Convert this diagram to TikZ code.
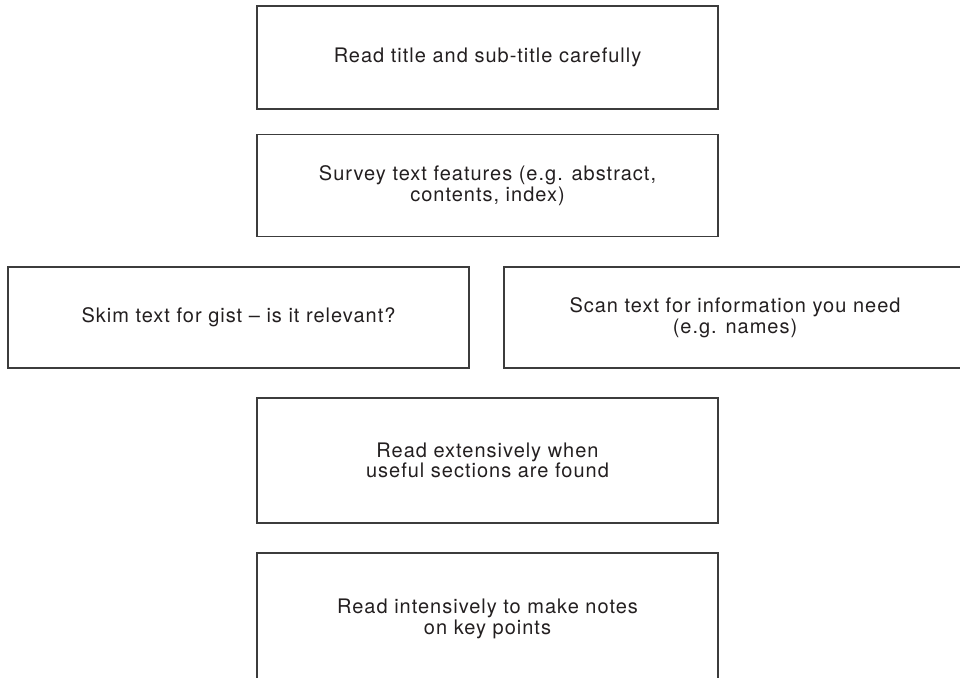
\documentclass[tikz,border=0pt]{standalone}
\usepackage{fontspec}
\setmainfont[LetterSpace=5]{TeX Gyre Heros}
\definecolor{boxline}{HTML}{3C3C3C}
\definecolor{textcol}{HTML}{231F20}
\begin{document}
\begin{tikzpicture}[x=1pt,y=-1pt,
  box/.style={draw=boxline, line width=1.4pt, align=center, inner sep=0pt,
    text=textcol, font=\fontsize{20}{20.5}\selectfont}]
\useasboundingbox (0,0) rectangle (960,677);
\clip (0,0) rectangle (960,677);
\node[box, minimum width=461pt, minimum height=103pt] (b1) at (487.5,57.5)
  {Read title and sub-title carefully};
\node[box, minimum width=461pt, minimum height=102pt] (b2) at (487.5,185.5)
  {Survey text features (e.g. abstract,\\contents, index)};
\node[box, minimum width=461pt, minimum height=101pt] (b3) at (238.5,317.5)
  {Skim text for gist -- is it relevant?};
\node[box, minimum width=462pt, minimum height=101pt] (b4) at (735,317.5)
  {Scan text for information you need\\(e.g. names)};
\node[box, minimum width=461pt, minimum height=125pt] (b5) at (487.5,460.5)
  {Read extensively when\\useful sections are found};
\node[box, minimum width=461pt, minimum height=132pt] (b6) at (487.5,619)
  {Read intensively to make notes\\on key points};
\end{tikzpicture}
\end{document}
